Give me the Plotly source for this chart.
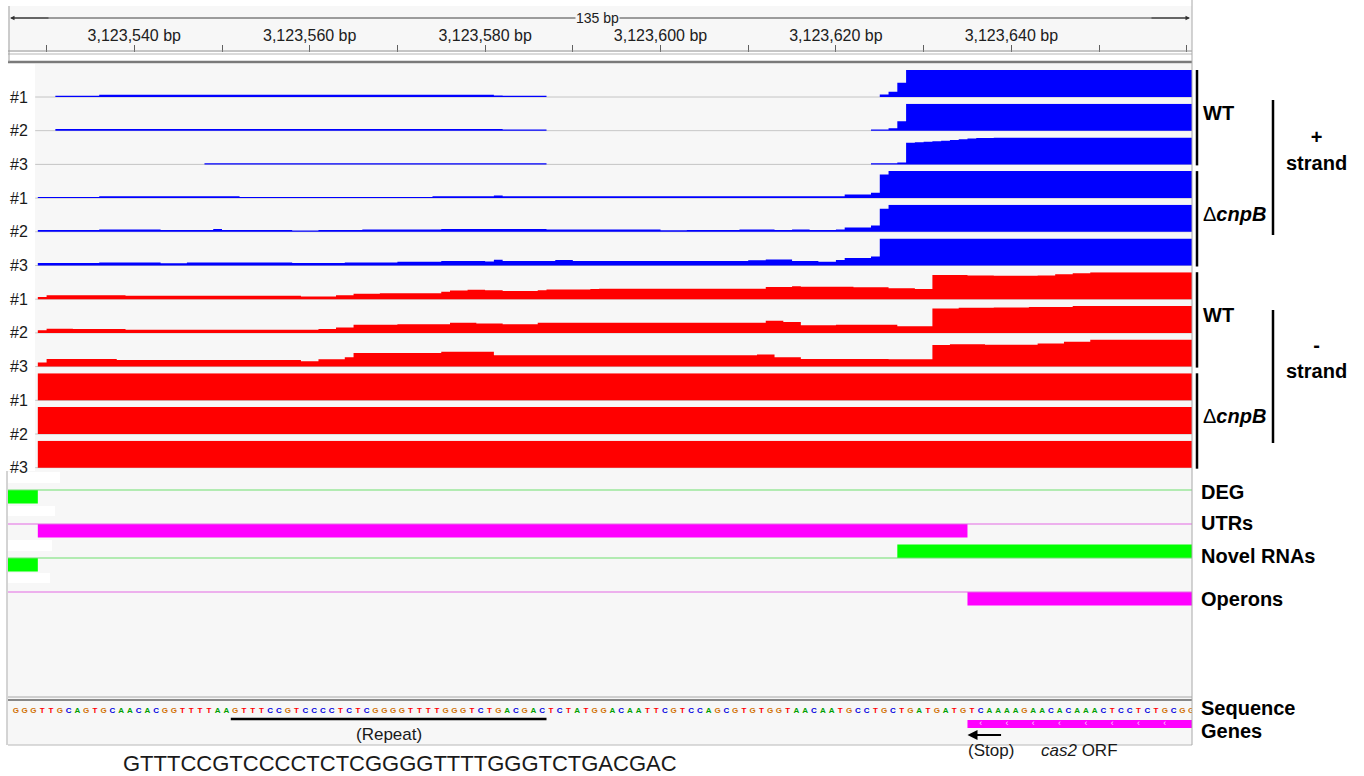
import plotly.graph_objects as go

# ---------------- data ----------------
START = 3123526            # genomic position of offset 0
VIEW_LEFT = -0.4           # view starts slightly before offset 0
VIEW_BP = 135
VIEW_RIGHT = VIEW_LEFT + VIEW_BP
SEG_END = 140              # segments run past the right edge
DATA_START = 3             # coverage shown from this offset

tick_positions = list(range(3123530, 3123661, 10))
labeled_ticks = list(range(3123540, 3123641, 20))
tick_labels = [f"{p:,} bp" if p in labeled_ticks else "" for p in tick_positions]

# coverage tracks: (segment start offset, relative level 0..1)
wt_plus_1 = [(5, .05), (10, .085), (55, .06), (56, .05), (61, 0), (99, .09), (100, .19), (101, .53), (102, 1.0)]
wt_plus_2 = [(5, .06), (56, .045), (61, 0), (98, .04), (100, .09), (101, .35), (102, 1.0)]
wt_plus_3 = [(22, .045), (61, 0), (98, .045), (101, .07), (102, .80), (103, .82), (104, .84), (105, .86),
             (106, .88), (107, .90), (108, .93), (109, .96), (110, .98), (112, 1.0)]
cnpb_plus_1 = [(3, .045), (10, .065), (26, .045), (48, .065), (55, .1), (56, .065), (95, .13), (98, .2),
               (99, .87), (100, 1.0)]
cnpb_plus_2 = [(3, .065), (10, .085), (17, .065), (23, .1), (24, .065), (32, .045), (35, .065), (40, .085),
               (49, .1), (61, .085), (74, .055), (77, .065), (83, .085), (87, .065), (89, .085), (91, .065),
               (94, .085), (95, .16), (98, .23), (99, .85), (100, 1.0)]
cnpb_plus_3 = [(3, .09), (10, .11), (17, .08), (20, .11), (32, .09), (38, .11), (44, .14), (49, .17), (54, .15),
               (55, .21), (56, .17), (62, .2), (64, .17), (84, .19), (86, .22), (89, .17), (92, .14),
               (94, .2), (95, .28), (98, .33), (99, 1.0)]
wt_minus_1 = [(3, .08), (4, .15), (13, .13), (33, .10), (37, .15), (39, .20), (42, .22), (49, .28), (50, .32),
              (52, .35), (54, .33), (56, .30), (60, .33), (61, .36), (66, .38), (67, .39), (86, .45), (89, .48),
              (90, .46), (96, .44), (100, .41), (103, .38), (105, .90), (109, .88), (112, .87), (117, .88),
              (119, .92), (121, .96), (123, 1.0)]
wt_minus_2 = [(3, .10), (4, .15), (7, .14), (13, .12), (35, .14), (37, .20), (39, .30), (44, .32), (50, .38),
              (53, .35), (56, .32), (60, .38), (86, .45), (88, .40), (90, .28), (94, .30), (101, .25),
              (105, .90), (108, .93), (112, .94), (116, .96), (121, 1.0)]
wt_minus_3 = [(3, .15), (4, .28), (12, .24), (33, .20), (35, .27), (38, .35), (39, .50), (49, .55), (55, .42),
              (85, .45), (87, .35), (90, .28), (100, .27), (105, .80), (107, .83), (111, .81), (117, .86),
              (120, .92), (123, 1.0)]
cnpb_minus_1 = [(3, 1.0)]
cnpb_minus_2 = [(3, 1.0)]
cnpb_minus_3 = [(3, 1.0)]

replicate_labels = ["#1", "#2", "#3"]
group_labels = ["<b>WT</b>", "Δ<b><i>cnpB</i></b>", "<b>WT</b>", "Δ<b><i>cnpB</i></b>"]
strand_labels = ["<b>+<br>strand</b>", "<b>-<br>strand</b>"]

# feature tracks
feature_rows = ["DEG", "UTRs", "Novel RNAs", "Operons"]
feature_row_colors = ["#00ff00", "#ff00ff", "#00ff00", "#ff00ff"]
feature_line_colors = ["#6fe06f", "#e46ae4", "#6fe06f", "#e46ae4"]
feature_starts = [-3, 3, -3, 101, 109]
feature_ends = [3, 109, 3, SEG_END, SEG_END]
feature_rows_idx = [0, 1, 2, 2, 3]
feature_side = [1, 1, 1, -1, 1]     # 1 = below the row line, -1 = above

sequence = ("GGGTTGCAGTGCAACACGGTTTTAA"
            "GTTTCCGTCCCCTCTCGGGGTTTTGGGTCTGACGAC"
            "TCTATGGACAATTCGTCCAGCGTGTGGTAACAATGCCTGCTGATGATGTCAAAAGAACACAAACTCCTCTGCGG")
base_colors = {"A": "#00a000", "C": "#0000e0", "G": "#d17105", "T": "#ff0000"}
repeat_start, repeat_end = 25, 61
gene_start, gene_end = 109, SEG_END
stop_arrow_from = 113

# ---------------- layout helpers ----------------
W, H = 1364, 776
FONT = "Liberation Sans, Arial, sans-serif"
PX0, PX1 = 8, 1192
TRACK0_BASE, PITCH, TRACK_H = 97, 33.7, 27


def yp(px):
    return 1 - px / H


def xp(px):
    return px / W


fig = go.Figure()
axes = {}
annotations = []
shapes = []


def label(text, xpx, ypx, size, xanchor="center", color="black", **kw):
    annotations.append(dict(text=text, x=xp(xpx), y=yp(ypx), xref="paper", yref="paper",
                            xanchor=xanchor, yanchor="middle", showarrow=False,
                            font=dict(size=size, color=color, family=FONT), **kw))


tracks = [(wt_plus_1, "#0000ff"), (wt_plus_2, "#0000ff"), (wt_plus_3, "#0000ff"),
          (cnpb_plus_1, "#0000ff"), (cnpb_plus_2, "#0000ff"), (cnpb_plus_3, "#0000ff"),
          (wt_minus_1, "#ff0000"), (wt_minus_2, "#ff0000"), (wt_minus_3, "#ff0000"),
          (cnpb_minus_1, "#ff0000"), (cnpb_minus_2, "#ff0000"), (cnpb_minus_3, "#ff0000")]

for k, (segs, color) in enumerate(tracks):
    base = TRACK0_BASE + k * PITCH
    yname = f"y{k + 2}"
    axes[f"yaxis{k + 2}"] = dict(domain=[yp(base + 1), yp(base - TRACK_H)], range=[-1 / TRACK_H, 1],
                                 visible=False, anchor="x", fixedrange=True)
    fig.add_trace(go.Scatter(x=[START + DATA_START - 0.3, START + VIEW_RIGHT], y=[0, 0], mode="lines",
                             line=dict(color="#c4c4c4", width=1), xaxis="x", yaxis=yname,
                             hoverinfo="skip", showlegend=False))
    xs = [START + s for s, _ in segs] + [START + SEG_END]
    ys = [v for _, v in segs] + [segs[-1][1]]
    fig.add_trace(go.Scatter(x=xs, y=ys, mode="lines", line=dict(shape="hv", width=0, color=color),
                             fill="tozeroy", fillcolor=color, xaxis="x", yaxis=yname,
                             showlegend=False, hoverinfo="skip"))
    label(replicate_labels[k % 3], 19, base, 16, color="#1a1a1a")

# group brackets and labels
for g in range(4):
    top = TRACK0_BASE + (3 * g) * PITCH - TRACK_H
    bot = TRACK0_BASE + (3 * g + 2) * PITCH + 1
    shapes.append(dict(type="line", xref="paper", yref="paper", x0=xp(1197), x1=xp(1197),
                       y0=yp(top), y1=yp(bot), line=dict(color="black", width=2.5)))
    label(group_labels[g], 1201, top + 43, 20, xanchor="left")
for s_i, (y0, y1, ylab) in enumerate([(100, 235, 150), (310, 443, 358)]):
    shapes.append(dict(type="line", xref="paper", yref="paper", x0=xp(1273), x1=xp(1273),
                       y0=yp(y0), y1=yp(y1), line=dict(color="black", width=2.5)))
    label(strand_labels[s_i], 1316, ylab, 20, align="center")

# feature tracks (row r line at px 490 + 34 r)
axes["yaxis14"] = dict(domain=[yp(612), yp(478)], range=[(612 - 490) / 34, (478 - 490) / 34],
                       visible=False, anchor="x", fixedrange=True)
for r, name in enumerate(feature_rows):
    fig.add_trace(go.Scatter(x=[START + VIEW_LEFT, START + VIEW_RIGHT], y=[r, r], mode="lines",
                             line=dict(color=feature_line_colors[r], width=1.2), xaxis="x", yaxis="y14",
                             hoverinfo="skip", showlegend=False))
for s, e, r, side in zip(feature_starts, feature_ends, feature_rows_idx, feature_side):
    fig.add_trace(go.Bar(orientation="h", y=[r + side * 0.2], x=[e - s], base=[START + s], width=0.4,
                         marker=dict(color=feature_row_colors[r], line=dict(width=0)),
                         xaxis="x", yaxis="y14", showlegend=False, hoverinfo="skip"))
for name, ypx in zip(feature_rows, [492, 523, 556, 599]):
    label(f"<b>{name}</b>", 1199, ypx, 20, xanchor="left")

# sequence + genes (row 0 at px 711, row 1 at px 724)
axes["yaxis15"] = dict(domain=[yp(745), yp(700)], range=[(745 - 711) / 13, (700 - 711) / 13],
                       visible=False, anchor="x", fixedrange=True)
fig.add_trace(go.Scatter(x=[START + i + 0.5 for i in range(len(sequence))], y=[0] * len(sequence),
                         mode="text", text=list(sequence),
                         textfont=dict(size=8, color=[base_colors[b] for b in sequence], family=FONT,
                                       weight="bold"),
                         xaxis="x", yaxis="y15", hoverinfo="skip", showlegend=False, cliponaxis=True))
fig.add_trace(go.Scatter(x=[START + repeat_start, START + repeat_end], y=[0.62, 0.62], mode="lines",
                         line=dict(color="black", width=2.5), xaxis="x", yaxis="y15",
                         hoverinfo="skip", showlegend=False))
fig.add_trace(go.Bar(orientation="h", y=[1], x=[gene_end - gene_start], base=[START + gene_start], width=0.62,
                     marker=dict(color="#ff00ff", line=dict(width=0)), xaxis="x", yaxis="y15",
                     showlegend=False, hoverinfo="skip"))
chev = [START + p + 0.5 for p in range(gene_start + 1, int(VIEW_RIGHT), 3)]
fig.add_trace(go.Scatter(x=chev, y=[1] * len(chev), mode="text", text=["‹"] * len(chev),
                         textfont=dict(size=9, color="#ffd0ff"), xaxis="x", yaxis="y15",
                         hoverinfo="skip", showlegend=False))
label("<b>Sequence</b>", 1199, 708, 20, xanchor="left")
label("<b>Genes</b>", 1199, 731, 20, xanchor="left")


def data_label(text, xoff, ypx, size):
    annotations.append(dict(text=text, x=START + xoff, xref="x", y=yp(ypx), yref="paper",
                            xanchor="center", yanchor="middle", showarrow=False,
                            font=dict(size=size, color="#1a1a1a", family=FONT)))


data_label("(Repeat)", (repeat_start + repeat_end) / 2, 734, 17)
data_label("(Stop)", gene_start + 2.7, 750, 17)
data_label("<i>cas2</i> ORF", gene_start + 12.8, 750, 17)
annotations.append(dict(text="", x=START + gene_start, xref="x", y=yp(735), yref="paper",
                        ax=START + stop_arrow_from, axref="x", ay=0, showarrow=True, arrowhead=2,
                        arrowsize=1, arrowwidth=2, arrowcolor="black"))
label(sequence[repeat_start:repeat_end], 400, 763, 22, color="#1a1a1a")

# ruler span
label(f"{VIEW_BP} bp", 597, 18, 14, color="#202020", bgcolor="#f7f7f7", borderpad=0)
annotations.append(dict(text="", x=xp(10), y=yp(18), xref="paper", yref="paper", ax=40, ay=0,
                        showarrow=True, arrowhead=2, arrowsize=0.9, arrowwidth=1, arrowcolor="#303030"))
annotations.append(dict(text="", x=xp(1190), y=yp(18), xref="paper", yref="paper", ax=-40, ay=0,
                        showarrow=True, arrowhead=2, arrowsize=0.9, arrowwidth=1, arrowcolor="#303030"))


def rect(x0, x1, y0, y1, color, layer="below"):
    shapes.insert(0, dict(type="rect", xref="paper", yref="paper", x0=xp(x0), x1=xp(x1), y0=yp(y1), y1=yp(y0),
                          fillcolor=color, line=dict(width=0), layer=layer))


def hline(ypx, color, width, x0=PX0, x1=PX1):
    shapes.append(dict(type="line", xref="paper", yref="paper", x0=xp(x0), x1=xp(x1), y0=yp(ypx), y1=yp(ypx),
                       line=dict(color=color, width=width)))


def vline(xpx, y0, y1, color, width):
    shapes.append(dict(type="line", xref="paper", yref="paper", x0=xp(xpx), x1=xp(xpx), y0=yp(y0), y1=yp(y1),
                       line=dict(color=color, width=width)))


# backgrounds
rect(PX0, PX1, 6, 50, "#f7f7f7")
rect(35, PX1, 64, 471, "#f7f7f7")
rect(PX0, PX1, 471, 745, "#f7f7f7")
# leftover track-name boxes in the feature panel
for (bx1, by0, by1) in [(60, 472, 483), (55, 506, 516), (52, 540, 551), (50, 573, 583)]:
    shapes.append(dict(type="rect", xref="paper", yref="paper", x0=xp(PX0), x1=xp(bx1), y0=yp(by1), y1=yp(by0),
                       fillcolor="white", line=dict(width=0), layer="below"))
hline(18, "#404040", 1, 12, 1188)
hline(51, "#8a8a8a", 1)
hline(54, "#b5b5b5", 1)
hline(62, "#7a7a7a", 2.5)
hline(697, "#a8a8a8", 1)
hline(700, "#888888", 2)
hline(745, "#b8b8b8", 1)
vline(PX0 + 1, 6, 62, "#a0a0a0", 1)
vline(PX0 - 1, 471, 745, "#a8a8a8", 1)
vline(PX1, 0, 745, "#a8a8a8", 1)

fig.update_layout(
    width=W, height=H, margin=dict(l=0, r=0, t=0, b=0, autoexpand=False),
    paper_bgcolor="white", plot_bgcolor="rgba(0,0,0,0)",
    showlegend=False,
    font=dict(family=FONT, color="black"),
    xaxis=dict(domain=[xp(PX0), xp(PX1)], range=[START + VIEW_LEFT, START + VIEW_RIGHT],
               side="top", anchor="free", position=yp(44), automargin=False,
               tickmode="array", tickvals=tick_positions, ticktext=tick_labels,
               ticks="inside", ticklen=7, tickcolor="#606060", tickwidth=1,
               tickfont=dict(size=16, color="#202020", family=FONT),
               showgrid=False, zeroline=False, showline=False, fixedrange=True),
    annotations=annotations, shapes=shapes,
    **axes,
)

fig.write_html("out.html", config={"displayModeBar": False},
               post_script="document.body.style.margin='0';document.body.style.overflow='hidden';")
